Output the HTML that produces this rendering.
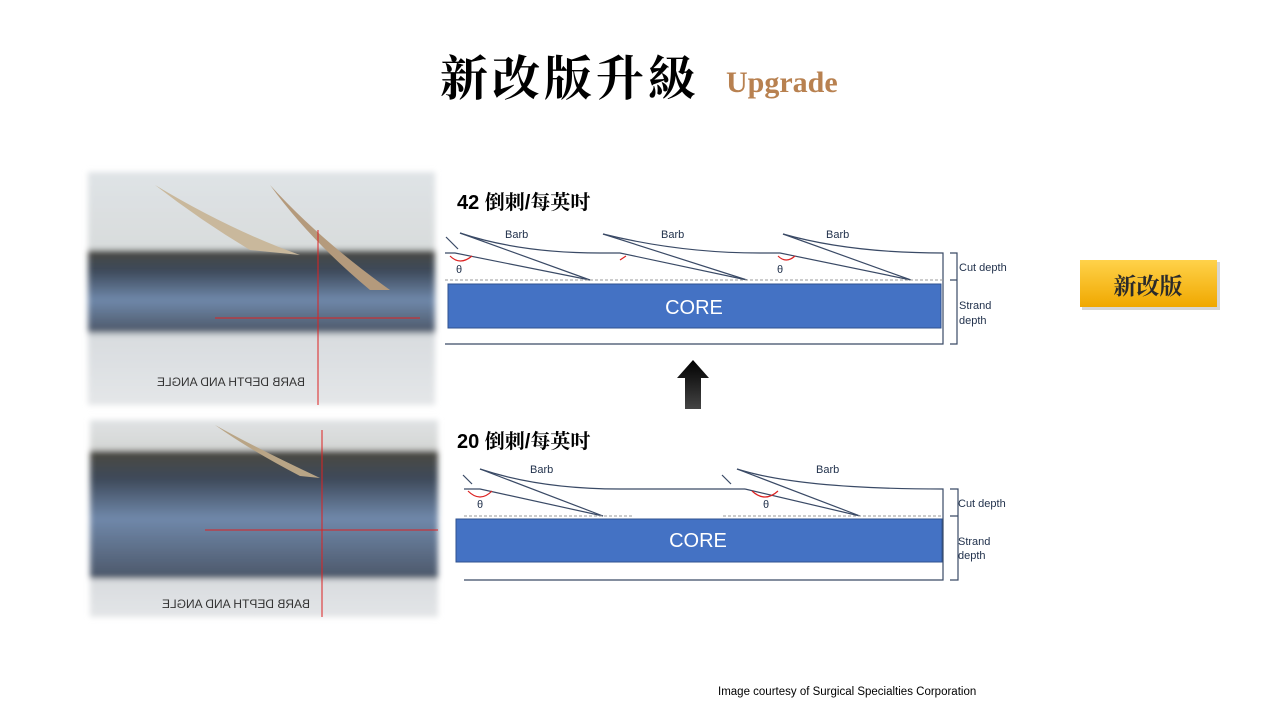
<!DOCTYPE html>
<html><head><meta charset="utf-8"><style>
html,body{margin:0;padding:0;background:#fff;}
svg{display:block}
</style></head><body>
<svg width="1280" height="720" viewBox="0 0 1280 720" xmlns="http://www.w3.org/2000/svg">
<defs>
<linearGradient id="ph" x1="0" y1="0" x2="0" y2="1">
<stop offset="0" stop-color="#dfe3e6"/><stop offset="0.33" stop-color="#d8dcdc"/>
<stop offset="0.34" stop-color="#4a4a44"/><stop offset="0.42" stop-color="#3c4858"/>
<stop offset="0.55" stop-color="#6f88aa"/><stop offset="0.68" stop-color="#4e5a6c"/>
<stop offset="0.7" stop-color="#d8dcdf"/><stop offset="1" stop-color="#e4e6e8"/>
</linearGradient>
<linearGradient id="ph2" x1="0" y1="0" x2="0" y2="1">
<stop offset="0" stop-color="#dfe2e4"/><stop offset="0.15" stop-color="#d4d6d4"/>
<stop offset="0.16" stop-color="#4a4840"/><stop offset="0.3" stop-color="#3e4a5a"/>
<stop offset="0.5" stop-color="#7088aa"/><stop offset="0.8" stop-color="#4c586a"/>
<stop offset="0.81" stop-color="#d9dcdf"/><stop offset="1" stop-color="#e3e5e7"/>
</linearGradient>
<linearGradient id="gold" x1="0" y1="0" x2="0" y2="1">
<stop offset="0" stop-color="#ffd24a"/><stop offset="1" stop-color="#f0a800"/>
</linearGradient>
<linearGradient id="arr" x1="0" y1="0" x2="0" y2="1">
<stop offset="0" stop-color="#000"/><stop offset="1" stop-color="#444"/>
</linearGradient>
<filter id="blur"><feGaussianBlur stdDeviation="3"/></filter>
</defs>
<text x="440" y="95" font-family="'Liberation Serif','Noto Serif CJK SC',serif" font-weight="bold" font-size="48" letter-spacing="4" fill="#000">新改版升級</text>
<text x="726" y="92" font-family="'Liberation Serif',serif" font-weight="bold" font-size="30" fill="#b88150">Upgrade</text>

<!-- photos -->
<rect x="88" y="172" width="347" height="233" fill="url(#ph)" filter="url(#blur)"/>
<path d="M155 185 Q230 230 300 255 L250 250 Q200 220 155 185Z" fill="#c9b89c"/>
<path d="M270 185 Q320 240 390 290 L370 290 Q310 240 270 185Z" fill="#b49a7c"/>
<line x1="318" y1="230" x2="318" y2="405" stroke="#d22" stroke-width="1"/>
<line x1="215" y1="318" x2="420" y2="318" stroke="#d22" stroke-width="1"/>
<text x="170" y="386" font-family="'Liberation Sans',sans-serif" font-size="12" fill="#333" transform="translate(475,0) scale(-1,1)">BARB DEPTH AND ANGLE</text>
<rect x="90" y="420" width="348" height="197" fill="url(#ph2)" filter="url(#blur)"/>
<path d="M215 425 Q260 450 320 478 L300 476 Q250 450 215 425Z" fill="#b9a586"/>
<line x1="322" y1="430" x2="322" y2="617" stroke="#d22" stroke-width="1"/>
<line x1="205" y1="530" x2="438" y2="530" stroke="#d22" stroke-width="1"/>
<text x="160" y="608" font-family="'Liberation Sans',sans-serif" font-size="12" fill="#333" transform="translate(470,0) scale(-1,1)">BARB DEPTH AND ANGLE</text>

<g font-family="'Liberation Sans',sans-serif" fill="#1f2f4a">
<text x="457" y="209" font-size="20" font-weight="bold" fill="#000" font-family="'Liberation Sans','Noto Serif CJK SC',sans-serif">42 倒刺/每英吋</text>
<g fill="none" stroke="#3a4a66" stroke-width="1.2">
<path d="M445 253 L455 253 L590 280"/>
<path d="M460 233 L590 280"/>
<path d="M460 233 Q520 253 600 253 L620 253 L747 280"/>
<path d="M603 234 L747 280"/>
<path d="M603 234 Q680 253 760 253 L780 253 L911 280"/>
<path d="M783 234 L911 280"/>
<path d="M783 234 Q850 253 943 253 L943 344 L445 344"/>
<path d="M950 253 H957 V344 H950 M957 280 H950"/>
<path d="M446 237 L458 249"/>
</g>
<line x1="445" y1="280" x2="943" y2="280" stroke="#999" stroke-width="1" stroke-dasharray="3,2"/>
<path d="M450 256 Q460 266 472 256 M620 260 L626 256 M778 256 Q786 264 795 256" fill="none" stroke="#d22" stroke-width="1.2"/>
<text x="456" y="273" font-size="11">θ</text><text x="777" y="273" font-size="11">θ</text>
<text x="505" y="238" font-size="11">Barb</text><text x="661" y="238" font-size="11">Barb</text><text x="826" y="238" font-size="11">Barb</text>
<rect x="448" y="284" width="493" height="44" fill="#4472c4" stroke="#2f528f" stroke-width="1"/>
<text x="694" y="314" font-size="20" fill="#fff" text-anchor="middle">CORE</text>
<text x="959" y="271" font-size="11">Cut depth</text>
<text x="959" y="309" font-size="11">Strand</text><text x="959" y="324" font-size="11">depth</text>

<text x="457" y="448" font-size="20" font-weight="bold" fill="#000" font-family="'Liberation Sans','Noto Serif CJK SC',sans-serif">20 倒刺/每英吋</text>
<g fill="none" stroke="#3a4a66" stroke-width="1.2">
<path d="M464 489 L480 489 L603 516"/>
<path d="M480 469 L603 516"/>
<path d="M480 469 Q540 489 620 489 L745 489"/>
<path d="M745 489 L860 516"/>
<path d="M737 469 L860 516"/>
<path d="M737 469 Q800 489 943 489 L943 580 L464 580"/>
<path d="M950 489 H958 V580 H950 M958 516 H950"/>
<path d="M463 475 L472 484"/><path d="M722 475 L731 484"/>
</g>
<path d="M464 516 H632 M723 516 H943" stroke="#999" stroke-width="1" stroke-dasharray="3,2"/>
<path d="M468 491 Q480 503 492 491 M752 491 Q765 503 778 491" fill="none" stroke="#d22" stroke-width="1.2"/>
<text x="477" y="508" font-size="11">θ</text><text x="763" y="508" font-size="11">θ</text>
<text x="530" y="473" font-size="11">Barb</text><text x="816" y="473" font-size="11">Barb</text>
<rect x="456" y="519" width="486" height="43" fill="#4472c4" stroke="#2f528f" stroke-width="1"/>
<text x="698" y="547" font-size="20" fill="#fff" text-anchor="middle">CORE</text>
<text x="958" y="507" font-size="11">Cut depth</text>
<text x="958" y="545" font-size="11">Strand</text><text x="958" y="559" font-size="11">depth</text>
</g>

<path d="M693 360 L709 378 L701 378 L701 409 L685 409 L685 378 L677 378 Z" fill="url(#arr)"/>

<rect x="1082" y="262" width="138" height="48" fill="#bbb" opacity="0.6"/>
<rect x="1080" y="260" width="137" height="47" fill="url(#gold)"/>
<text x="1148" y="294" text-anchor="middle" font-family="'Noto Serif CJK SC',serif" font-weight="bold" font-size="23" fill="#2a2a2a">新改版</text>

<text x="718" y="695" font-family="'Liberation Sans',sans-serif" font-size="11.5" fill="#000">Image courtesy of Surgical Specialties Corporation</text>
</svg>
</body></html>
